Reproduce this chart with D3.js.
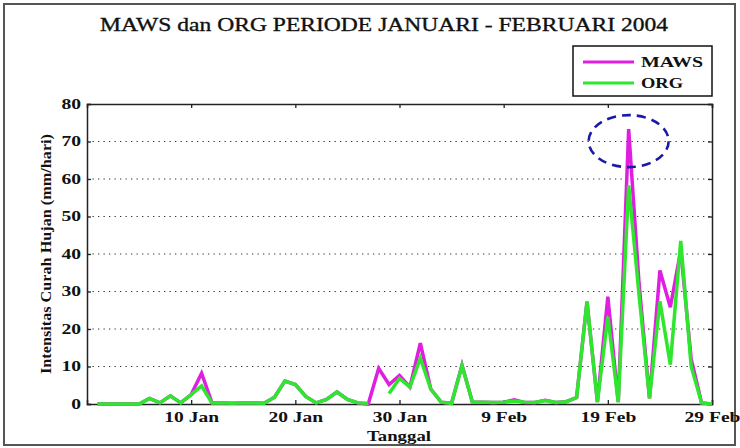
<!DOCTYPE html>
<html>
<head>
<meta charset="utf-8">
<script src="https://cdn.jsdelivr.net/npm/d3@7"></script>
<style>
  body { margin: 0; background: #fff; }
  svg text { font-family: 'Liberation Serif', 'Times New Roman', serif !important; fill: #111; }
</style>
</head>
<body>
<div id="container"></div>
<script>
// daily rainfall, 1 Jan - 29 Feb 2004 (mm/hari)
const firstDay = '2004-01-01';
const lastDay = '2004-02-29';
const mawsValues = [
  0, 0, 0, 0, 0, 1.5, 0.3, 2.2, 0.3, 2.5, 8.2, 0.3, 0.3, 0.2, 0.3, 0.3, 0.2, 1.8, 6.1, 5.2,
  2, 0.3, 1.2, 3.2, 1.2, 0.3, 0, 9.5, 5.2, 7.6, 4.5,
  16.2, 4, 0.5, 0.2, 10.4, 0.5, 0.5, 0.4, 0.5, 1.1, 0.4, 0.4, 1, 0.4, 0.6, 1.7, 27.3, 0.5, 28.6,
  0.5, 73.3, 32, 1.5, 35.6, 25.8, 41, 12, 0.3, 0
];
const orgValues = [
  0, 0, 0, 0, 0, 1.5, 0.3, 2.2, 0.3, 2.5, 4.8, 0.3, 0.3, 0.2, 0.3, 0.3, 0.2, 1.8, 6.1, 5.2,
  2, 0.3, 1.2, 3.2, 1.2, 0.3, 0.2, null, 2.8, 6.8, 4.5,
  12.2, 4, 0.5, 0.2, 10.2, 0.5, 0.5, 0.4, 0.5, 0.8, 0.5, 0.4, 0.9, 0.4, 0.6, 1.7, 27.3, 0.5, 23.3,
  0.5, 58.3, 29, 1.5, 27.4, 10.5, 43.5, 10, 0.3, 0
];
const seriesNames = ['MAWS', 'ORG'];
const seriesColors = ['#e01ee0', '#2ee62e'];
const yTicks = [0, 10, 20, 30, 40, 50, 60, 70, 80];
const xTickDates = ['2004-01-10', '2004-01-20', '2004-01-30', '2004-02-09', '2004-02-19', '2004-02-29'];
const xTickLabels = ['10 Jan', '20 Jan', '30 Jan', '9 Feb', '19 Feb', '29 Feb'];
const highlightDay = '2004-02-21';

const width = 740, height = 448;
const margin = {top: 104, right: 28, bottom: 44, left: 87};
const parse = d3.timeParse('%Y-%m-%d');
const serif = "'Liberation Serif', 'Times New Roman', serif";

const days = d3.timeDay.range(parse(firstDay), d3.timeDay.offset(parse(lastDay), 1));

const svg = d3.select('#container')
  .append('svg')
  .attr('width', width)
  .attr('height', height);

// outer frame
svg.append('rect')
  .attr('x', 4).attr('y', 4)
  .attr('width', 731).attr('height', 441)
  .attr('fill', '#fff')
  .attr('stroke', '#555')
  .attr('stroke-width', 2);

const x = d3.scaleTime()
  .domain([d3.timeDay.offset(parse(firstDay), -1), parse(lastDay)])
  .range([margin.left, width - margin.right]);
const y = d3.scaleLinear()
  .domain([0, 80])
  .range([height - margin.bottom, margin.top]);

// stretch text horizontally (the source picture is wide)
function stretch(sel, k) {
  sel.each(function () {
    const w = this.getComputedTextLength();
    d3.select(this).attr('textLength', w * k).attr('lengthAdjust', 'spacingAndGlyphs');
  });
}

// dotted grid
svg.append('g')
  .selectAll('line')
  .data(yTicks.filter(d => d > 0 && d < 80))
  .enter()
  .append('line')
  .attr('x1', x.range()[0]).attr('x2', x.range()[1])
  .attr('y1', d => y(d)).attr('y2', d => y(d))
  .attr('stroke', '#333')
  .attr('stroke-width', 1.2)
  .attr('stroke-dasharray', '1.3,4.2');

// axes (ticks inward)
const xTicks = xTickDates.map(parse);
const gx = svg.append('g')
  .attr('transform', `translate(0,${y(0)})`)
  .call(d3.axisBottom(x).tickValues(xTicks).tickSize(-4).tickPadding(10)
    .tickFormat((d, i) => xTickLabels[i]));
svg.append('g')
  .attr('transform', `translate(0,${y(80)})`)
  .call(d3.axisTop(x).tickValues(xTicks).tickSize(-4).tickFormat(''));
const gy = svg.append('g')
  .attr('transform', `translate(${x.range()[0]},0)`)
  .call(d3.axisLeft(y).tickValues(yTicks).tickSize(-4).tickPadding(6));
svg.append('g')
  .attr('transform', `translate(${x.range()[1]},0)`)
  .call(d3.axisRight(y).tickValues(yTicks).tickSize(-4).tickFormat(''));

svg.selectAll('g').attr('font-family', serif);
svg.selectAll('.domain').attr('stroke', '#222').attr('stroke-width', 1.5);
svg.selectAll('.tick line').attr('stroke', '#222').attr('stroke-width', 1.3);

gx.selectAll('text')
  .attr('font-size', 15).attr('font-weight', 'bold').attr('fill', '#111')
  .attr('dy', '0.55em');
gx.selectAll('.tick text').call(stretch, 1.3);
gy.selectAll('text')
  .attr('font-size', 14).attr('font-weight', 'bold').attr('fill', '#111');
gy.selectAll('.tick text').call(stretch, 1.4);

// lines
const series = [mawsValues, orgValues];
const lineGenerator = d3.line()
  .defined(d => d.v != null)
  .x(d => x(d.date))
  .y(d => y(d.v));

series.forEach((vals, k) => {
  const pts = days.map((date, i) => ({date, v: vals[i]}));
  svg.append('path')
    .attr('fill', 'none')
    .attr('stroke', seriesColors[k])
    .attr('stroke-width', 3.5)
    .attr('stroke-linejoin', 'miter')
    .attr('d', lineGenerator(pts));
});

// dashed ellipse around the highest MAWS value
const peak = d3.max(mawsValues);
svg.append('ellipse')
  .attr('cx', x(parse(highlightDay)))
  .attr('cy', y(peak) + 12)
  .attr('rx', 40)
  .attr('ry', 26)
  .attr('fill', 'none')
  .attr('stroke', '#1a1aa8')
  .attr('stroke-width', 2.6)
  .attr('stroke-dasharray', '9,6');

// title
svg.append('text')
  .attr('x', 384).attr('y', 31)
  .attr('text-anchor', 'middle')
  .attr('font-family', serif)
  .attr('font-size', 19)
  .attr('stroke', '#111').attr('stroke-width', 0.35)
  .attr('textLength', 568).attr('lengthAdjust', 'spacingAndGlyphs')
  .text('MAWS dan ORG PERIODE JANUARI - FEBRUARI 2004');

// axis titles
svg.append('text')
  .attr('x', 399).attr('y', 441)
  .attr('text-anchor', 'middle')
  .attr('font-family', serif)
  .attr('font-size', 15).attr('font-weight', 'bold')
  .attr('textLength', 64).attr('lengthAdjust', 'spacingAndGlyphs')
  .text('Tanggal');

svg.append('text')
  .attr('transform', `translate(51,${(y(0) + y(80)) / 2}) rotate(-90)`)
  .attr('text-anchor', 'middle')
  .attr('font-family', serif)
  .attr('font-size', 15).attr('font-weight', 'bold')
  .attr('textLength', 240).attr('lengthAdjust', 'spacingAndGlyphs')
  .text('Intensitas Curah Hujan (mm/hari)');

// legend
const legend = svg.append('g');
legend.append('rect')
  .attr('x', 573).attr('y', 46)
  .attr('width', 139).attr('height', 50)
  .attr('fill', '#fff')
  .attr('stroke', '#111')
  .attr('stroke-width', 1.5);
const legendTextWidth = [62, 42];
seriesNames.forEach((name, i) => {
  const ly = 62 + i * 21;
  legend.append('line')
    .attr('x1', 583).attr('x2', 634)
    .attr('y1', ly).attr('y2', ly)
    .attr('stroke', seriesColors[i])
    .attr('stroke-width', 3);
  legend.append('text')
    .attr('x', 641).attr('y', ly + 5)
    .attr('font-family', serif)
    .attr('font-size', 15).attr('font-weight', 'bold')
    .attr('textLength', legendTextWidth[i]).attr('lengthAdjust', 'spacingAndGlyphs')
    .text(name);
});
</script>
</body>
</html>
